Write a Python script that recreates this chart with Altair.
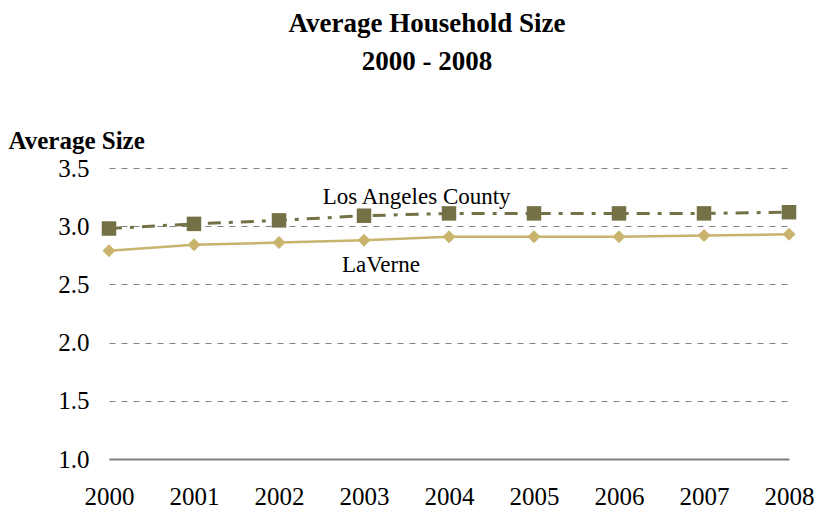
import altair as alt
import pandas as pd

years = [2000, 2001, 2002, 2003, 2004, 2005, 2006, 2007, 2008]
la_county = [2.98, 3.02, 3.05, 3.09, 3.11, 3.11, 3.11, 3.11, 3.12]
laverne = [2.79, 2.84, 2.86, 2.88, 2.91, 2.91, 2.91, 2.92, 2.93]

label_names = ["Los Angeles County", "LaVerne"]
label_x = [2003.62, 2003.2]
label_y = [3.255, 2.67]

FONT = "Liberation Serif"
LA_COLOR = "#747146"
LV_COLOR = "#C9B46E"

df_la = pd.DataFrame({"year": years, "value": la_county})
df_lv = pd.DataFrame({"year": years, "value": laverne})
df_lab = pd.DataFrame({"name": label_names, "x": label_x, "y": label_y})

x_enc = alt.X("year:Q",
              scale=alt.Scale(domain=[2000, 2008], nice=False, zero=False),
              axis=alt.Axis(values=years, format="d", title=None, grid=False,
                            ticks=False, domainColor="#808080", domainWidth=2,
                            labelFont=FONT, labelFontSize=25, labelColor="black",
                            labelPadding=25, labelFlush=False))
y_scale = alt.Scale(domain=[1.0, 3.5], nice=False, zero=False)
y_enc = alt.Y("value:Q", scale=y_scale,
              axis=alt.Axis(values=[1.0, 1.5, 2.0, 2.5, 3.0, 3.5], format=".1f",
                            title="Average Size", titleAngle=0, titleAlign="left",
                            titleBaseline="middle", titleX=-101, titleY=-28,
                            titleFont=FONT, titleFontSize=25, titleFontWeight="bold",
                            titleColor="black",
                            grid=True, gridDash=[6, 6], gridColor="#808080", gridWidth=1,
                            ticks=False, domain=False,
                            labelFont=FONT, labelFontSize=25, labelColor="black",
                            labelPadding=20))

lv_line = alt.Chart(df_lv).mark_line(color=LV_COLOR, strokeWidth=2.5).encode(x=x_enc, y=y_enc)
lv_pts = alt.Chart(df_lv).mark_point(shape="diamond", filled=True, color=LV_COLOR,
                                     size=170, opacity=1).encode(x="year:Q", y="value:Q")
la_line = alt.Chart(df_la).mark_line(color=LA_COLOR, strokeWidth=3,
                                     strokeDash=[13, 8, 4, 8]).encode(x="year:Q", y="value:Q")
la_pts = alt.Chart(df_la).mark_point(shape="square", filled=True, color=LA_COLOR,
                                     size=210, opacity=1).encode(x="year:Q", y="value:Q")
labels = alt.Chart(df_lab).mark_text(font=FONT, fontSize=23, color="black",
                                     baseline="middle", align="center").encode(
    x="x:Q", y="y:Q", text="name:N")

chart = alt.layer(lv_line, lv_pts, la_line, la_pts, labels).properties(
    width=680, height=291,
    autosize=alt.AutoSizeParams(type="none"),
    padding={"left": 101, "top": 160, "right": 26, "bottom": 50},
    title=alt.TitleParams(text=["Average Household Size", "2000 - 2008"],
                          font=FONT, fontSize=27, fontWeight="bold", color="black",
                          anchor="middle", lineHeight=38, dx=-22, offset=52),
).configure_view(stroke=None)

chart.save("out.html", embed_options={"renderer": "svg", "actions": False})
